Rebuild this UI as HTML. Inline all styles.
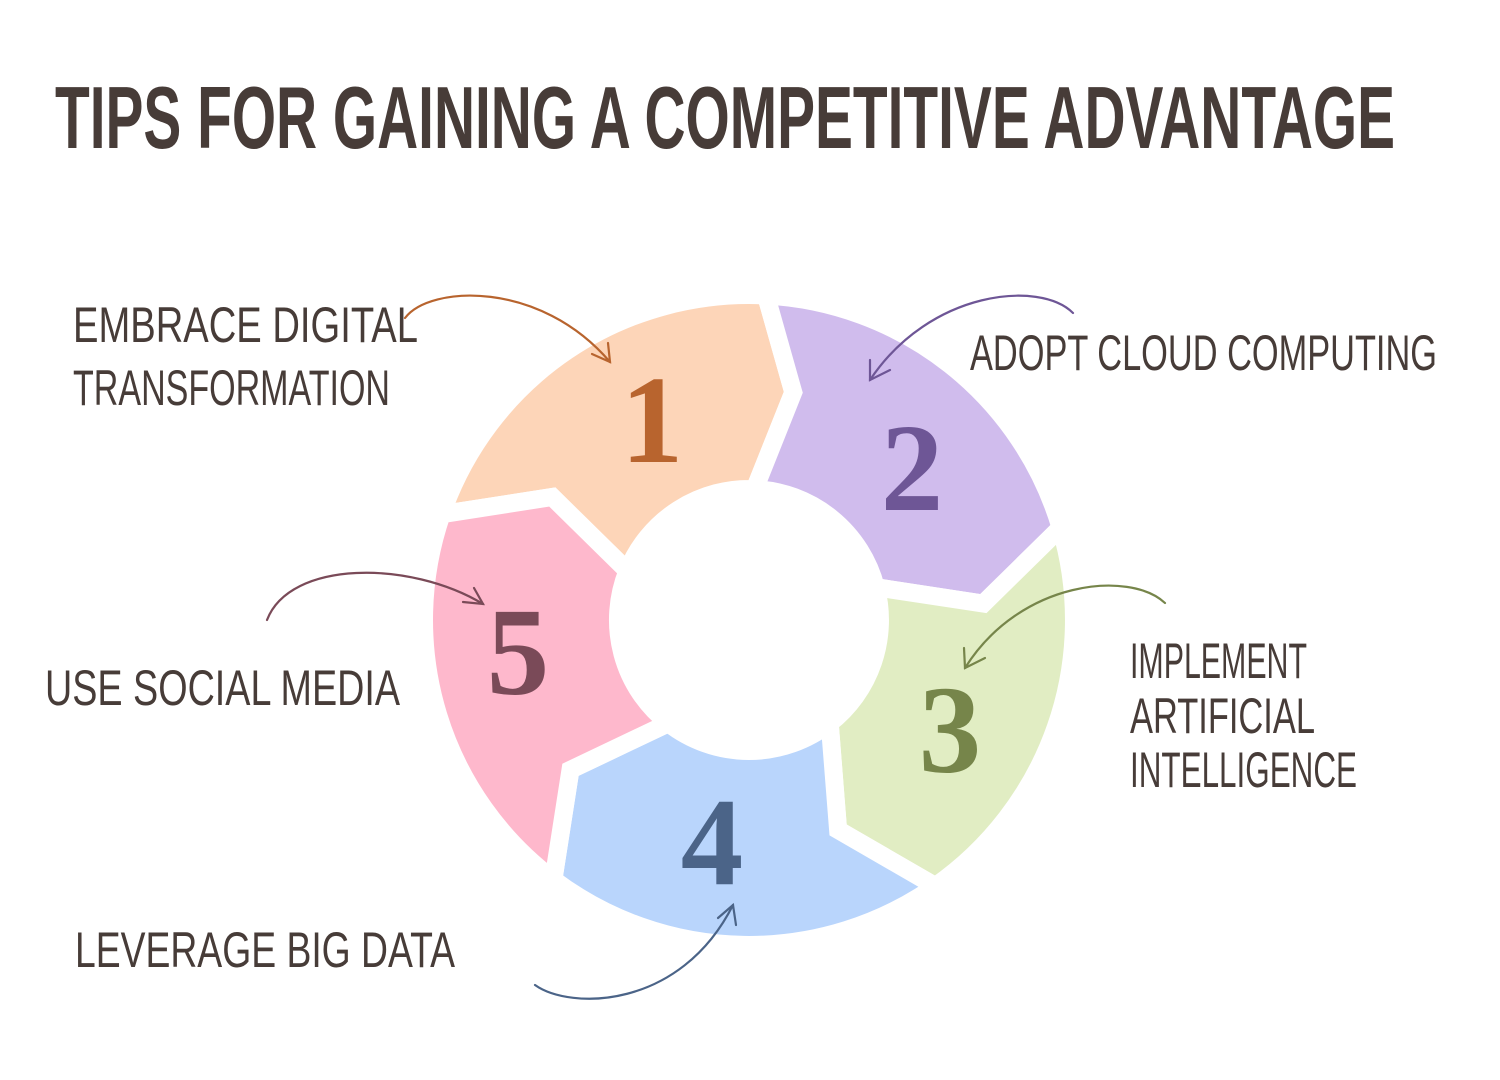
<!DOCTYPE html>
<html><head><meta charset="utf-8"><style>
html,body{margin:0;padding:0;background:#fff;}
svg{display:block}
text{font-family:"Liberation Sans Narrow","Liberation Sans",sans-serif;fill:#473c38;}
.t{font-size:88px;font-weight:bold;}
.l{font-size:50px;}
.n{font-family:"Liberation Serif",serif;font-weight:bold;font-size:125px;text-anchor:middle;}
.a{fill:none;stroke-width:2.2;stroke-linecap:round;}
</style></head><body>
<svg width="1500" height="1080" viewBox="0 0 1500 1080">
<text class="t" x="55" y="148" textLength="1340" lengthAdjust="spacingAndGlyphs">TIPS FOR GAINING A COMPETITIVE ADVANTAGE</text>
<g stroke="#fff" stroke-width="18" stroke-linejoin="miter">
<path fill="#fdd5b8" d="M441.7,514.2 A325,325 0 0 1 766,295.5 L793.3,392.3 L754.7,489.1 A131,131 0 0 0 627.5,570.9 L552.3,497 Z"/>
<path fill="#d0bced" d="M766,295.5 A325,325 0 0 1 1060.6,527.7 L983.4,603.6 L875.8,587.2 A131,131 0 0 0 754.7,489.1 L793.3,392.3 Z"/>
<path fill="#e1edc3" d="M1060.6,527.7 A325,325 0 0 1 935.4,886.2 L838.1,829.9 L829.7,723.2 A131,131 0 0 0 875.8,587.2 L983.4,603.6 Z"/>
<path fill="#b9d5fc" d="M935.4,886.2 A325,325 0 0 1 553.4,879.5 L570.5,769.8 L668.3,723.2 A131,131 0 0 0 829.7,723.2 L838.1,829.9 Z"/>
<path fill="#feb8cc" d="M553.4,879.5 A325,325 0 0 1 441.7,514.2 L552.3,497 L627.5,570.9 A131,131 0 0 0 668.3,723.2 L570.5,769.8 Z"/>
</g>
<text class="n" x="652" y="462" style="fill:#b8642e">1</text>
<text class="n" x="912" y="510" style="fill:#6e5696">2</text>
<text class="n" x="950" y="772" style="fill:#76854a">3</text>
<text class="n" x="712" y="884" style="fill:#4b6488">4</text>
<text class="n" x="518" y="694" style="fill:#7a4a58">5</text>

<text class="l" x="73" y="342" textLength="345" lengthAdjust="spacingAndGlyphs">EMBRACE DIGITAL</text>
<text class="l" x="73" y="405" textLength="317" lengthAdjust="spacingAndGlyphs">TRANSFORMATION</text>
<text class="l" x="970" y="370" textLength="467" lengthAdjust="spacingAndGlyphs">ADOPT CLOUD COMPUTING</text>
<text class="l" x="1130" y="678" textLength="177" lengthAdjust="spacingAndGlyphs">IMPLEMENT</text>
<text class="l" x="1130" y="733" textLength="185" lengthAdjust="spacingAndGlyphs">ARTIFICIAL</text>
<text class="l" x="1130" y="787" textLength="227" lengthAdjust="spacingAndGlyphs">INTELLIGENCE</text>
<text class="l" x="45" y="705" textLength="355" lengthAdjust="spacingAndGlyphs">USE SOCIAL MEDIA</text>
<text class="l" x="75" y="967" textLength="380" lengthAdjust="spacingAndGlyphs">LEVERAGE BIG DATA</text>

<g class="a" stroke="#b8642e"><path d="M405,318 C430,285 540,280 610,362"/><path d="M592,354 L610,362 L608,343"/></g>
<g class="a" stroke="#6e5696"><path d="M1073,313 C1040,280 930,290 870,380"/><path d="M870,360 L870,380 L890,370"/></g>
<g class="a" stroke="#76854a"><path d="M1165,603 C1130,570 1020,580 965,668"/><path d="M964,648 L965,668 L985,658"/></g>
<g class="a" stroke="#4b6488"><path d="M535,985 C570,1010 680,1010 733,905"/><path d="M718,918 L733,905 L736,925"/></g>
<g class="a" stroke="#7a4a58"><path d="M267,620 C290,560 410,560 483,604"/><path d="M463,602 L483,604 L474,588"/></g>
</svg>
</body></html>
